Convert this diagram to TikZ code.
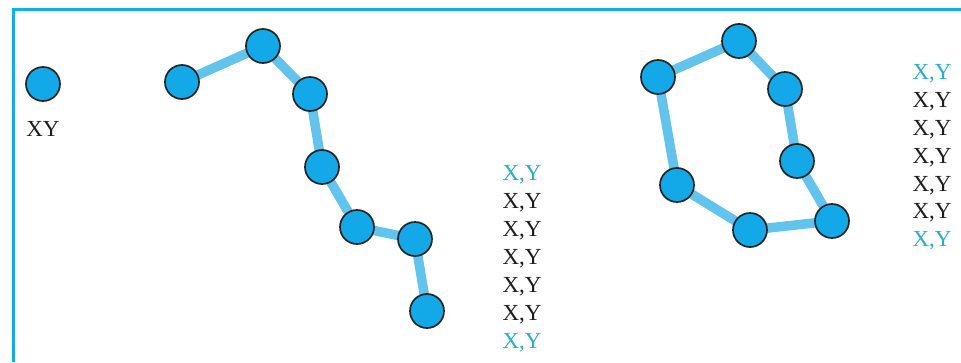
\documentclass[tikz,border=0pt]{standalone}
\usepackage{fontspec}
\setmainfont{Liberation Serif}
\usetikzlibrary{backgrounds}
\definecolor{framec}{HTML}{12AEEA}
\definecolor{nodec}{HTML}{13A9E8}
\definecolor{edgec}{HTML}{62C4EC}
\definecolor{tealc}{HTML}{27AFC9}
\definecolor{txtc}{HTML}{1E1E1E}
\tikzset{
  dot/.style={circle,draw=black!85,line width=1.7pt,fill=nodec,minimum size=34pt,inner sep=0pt},
  link/.style={draw=edgec,line width=9.5pt},
  lbl/.style={font=\fontsize{23}{23}\selectfont,text=txtc,inner sep=0pt},
  lblt/.style={lbl,text=tealc}
}
\begin{document}
\begin{tikzpicture}[x=1pt,y=-1pt]
\useasboundingbox (0,0) rectangle (961,362);
\draw[framec,line width=3pt] (13.2,362) -- (13.2,9.8) -- (961,9.8);
% single node
\node[dot] (s) at (43,84) {};
\node[lbl] (sl) at (43,129) {XY};
% chain
\node[dot] (a1) at (182,82) {};
\node[dot] (a2) at (263,46) {};
\node[dot] (a3) at (310,94) {};
\node[dot] (a4) at (322,167) {};
\node[dot] (a5) at (357,227) {};
\node[dot] (a6) at (415,239) {};
\node[dot] (a7) at (427,311) {};
% loop
\node[dot] (b1) at (658,77) {};
\node[dot] (b2) at (739,41) {};
\node[dot] (b3) at (785,89) {};
\node[dot] (b4) at (797,161) {};
\node[dot] (b5) at (832,221) {};
\node[dot] (b6) at (750,230) {};
\node[dot] (b7) at (677,185) {};
\begin{scope}[on background layer]
\fill[white] (0,0) rectangle (961,362);
\draw[link] (a1.center) -- (a2.center) -- (a3.center) -- (a4.center) -- (a5.center) -- (a6.center) -- (a7.center);
\draw[link] (b1.center) -- (b2.center) -- (b3.center) -- (b4.center) -- (b5.center) -- (b6.center) -- (b7.center) -- cycle;
\end{scope}
% label columns
\node[lblt] (l1) at (522,175) {X,Y};
\node[lbl] (l2) at (522,203) {X,Y};
\node[lbl] (l3) at (522,231) {X,Y};
\node[lbl] (l4) at (522,259) {X,Y};
\node[lbl] (l5) at (522,287) {X,Y};
\node[lbl] (l6) at (522,315) {X,Y};
\node[lblt] (l7) at (522,343) {X,Y};
\node[lblt] (r1) at (932,74) {X,Y};
\node[lbl] (r2) at (932,102) {X,Y};
\node[lbl] (r3) at (932,130) {X,Y};
\node[lbl] (r4) at (932,158) {X,Y};
\node[lbl] (r5) at (932,186) {X,Y};
\node[lbl] (r6) at (932,213) {X,Y};
\node[lblt] (r7) at (932,241) {X,Y};
\end{tikzpicture}
\end{document}
